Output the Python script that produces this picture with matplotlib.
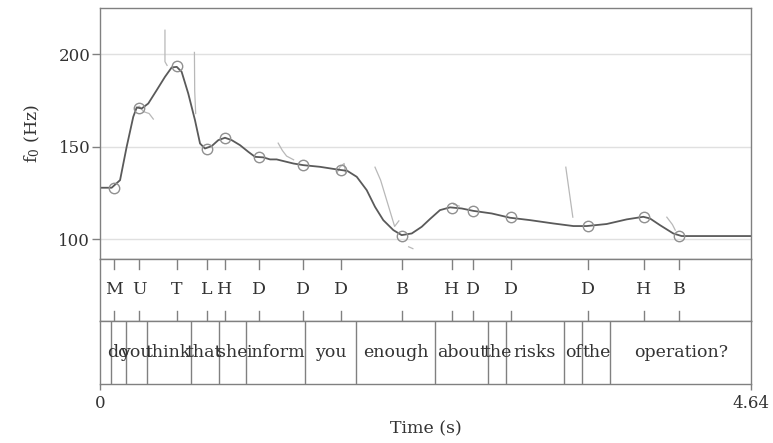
import numpy as np
import matplotlib
matplotlib.use("Agg")
import matplotlib.pyplot as plt

# ---------------- data ----------------
# smooth f0 contour (time s, Hz)
curve_t = [0.0, 0.083, 0.143, 0.190, 0.237, 0.262, 0.297, 0.344, 0.404, 0.463, 0.511,
           0.547, 0.582, 0.629, 0.677, 0.713, 0.748, 0.796, 0.843, 0.891, 0.939, 0.998,
           1.057, 1.105, 1.164, 1.212, 1.259, 1.378, 1.449, 1.568, 1.687, 1.763, 1.830,
           1.901, 1.960, 2.019, 2.091, 2.150, 2.222, 2.293, 2.352, 2.423, 2.495, 2.578,
           2.661, 2.792, 2.922, 3.065, 3.231, 3.374, 3.469, 3.611, 3.754, 3.872, 3.920,
           3.991, 4.086, 4.146, 4.64]
curve_f = [127.9, 127.9, 132.0, 150.0, 166.2, 171.3, 170.7, 173.4, 180.6, 187.8, 192.9,
           193.2, 190.5, 178.8, 164.4, 151.8, 149.1, 150.4, 153.6, 154.9, 153.6, 150.9,
           147.3, 144.6, 144.3, 143.2, 143.2, 141.0, 140.1, 139.2, 137.8, 137.0, 133.8,
           126.6, 117.6, 110.4, 105.0, 102.3, 103.2, 106.8, 111.0, 115.8, 117.3, 116.7,
           115.4, 114.0, 111.7, 110.4, 108.6, 107.2, 107.2, 108.3, 110.8, 112.2, 111.3,
           107.7, 103.2, 101.8, 101.8]

# tonal targets
tone_labels = ["M", "U", "T", "L", "H", "D", "D", "D", "B", "H", "D", "D", "D", "H", "B"]
tone_t = [0.102, 0.278, 0.547, 0.761, 0.889, 1.133, 1.449, 1.716, 2.155, 2.507,
          2.661, 2.929, 3.480, 3.877, 4.130]
tone_f = [128.0, 171.0, 193.5, 149.0, 155.0, 144.5, 140.0, 137.5, 102.0, 117.0,
          115.5, 112.0, 107.2, 112.2, 101.8]

# raw (unsmoothed) f0 track fragments
raw_segments = [
    ([0.25, 0.28, 0.31, 0.35, 0.38], [170, 172, 169, 168, 165]),
    ([0.463, 0.463, 0.478], [213, 196, 194]),
    ([0.673, 0.675, 0.682], [201, 180, 168]),
    ([1.27, 1.30, 1.33, 1.38], [152, 148, 145, 143]),
    ([1.69, 1.71, 1.74, 1.75], [136, 139, 141, 136]),
    ([1.96, 2.00, 2.04, 2.08, 2.10, 2.13], [139, 132, 122, 112, 107, 110]),
    ([2.20, 2.23], [96, 95]),
    ([2.52, 2.56], [119, 118]),
    ([3.32, 3.37], [139, 112]),
    ([4.04, 4.08, 4.10], [112, 108, 105]),
]

# word tier
word_bounds = [0.0, 0.076, 0.185, 0.333, 0.646, 0.846, 1.041, 1.461, 1.823, 2.388,
               2.768, 2.894, 3.307, 3.438, 3.637, 4.64]
words = ["", "do", "you", "think", "that", "she", "inform", "you", "enough", "about",
         "the", "risks", "of", "the", "operation?"]

t_max = 4.64
y_ticks = [100, 150, 200]
y_lim = (89.4, 225.0)

# ---------------- figure ----------------
plt.rcParams['font.family'] = ['DejaVu Serif']
plt.rcParams['mathtext.fontset'] = 'dejavuserif'
fig = plt.figure(figsize=(7.73, 4.43), dpi=100)

W, H = 773.0, 443.0
left, right = 100 / W, 751 / W
wd = right - left
def ax_at(top_px, bot_px):
    return fig.add_axes([left, 1 - bot_px / H, wd, (bot_px - top_px) / H])

ax_f0 = ax_at(8, 259)
ax_tone = ax_at(259, 321)
ax_word = ax_at(321, 384)

frame_col = "#808080"
for ax in (ax_f0, ax_tone, ax_word):
    ax.set_xlim(0, t_max)
    for s in ax.spines.values():
        s.set_color(frame_col)
        s.set_linewidth(1.0)

# f0 panel
ax_f0.set_ylim(*y_lim)
for yv in y_ticks:
    ax_f0.axhline(yv, color="#e0e0e0", lw=1.0, zorder=0)
raw_t, raw_f = [], []
for st, sf in raw_segments:
    raw_t += list(st) + [np.nan]
    raw_f += list(sf) + [np.nan]
ax_f0.plot(raw_t, raw_f, color="#b8b8b8", lw=0.9, zorder=1)
ax_f0.plot(curve_t, curve_f, color="#5a5a5a", lw=1.3, zorder=2)
ax_f0.plot(tone_t, tone_f, linestyle="none", marker="o", markersize=7.5,
           markerfacecolor="none", markeredgecolor="#909090", markeredgewidth=1.0, zorder=3)
ax_f0.set_yticks(y_ticks)
ax_f0.set_yticklabels([str(v) for v in y_ticks], fontsize=12, color="#333333")
ax_f0.tick_params(axis="y", direction="out", length=6, width=1, color=frame_col, pad=1)
ax_f0.set_xticks([])
ax_f0.set_ylabel(r"f$_0$ (Hz)", fontsize=12.5, color="#333333", labelpad=12)

# tone tier
ax_tone.set_ylim(0, 1)
ax_tone.set_xticks([])
ax_tone.set_yticks([])
for lab, t in zip(tone_labels, tone_t):
    ax_tone.plot([t, t], [0.84, 1.0], color=frame_col, lw=1.0)
    ax_tone.plot([t, t], [0.0, 0.16], color=frame_col, lw=1.0)
    ax_tone.text(t, 0.5, lab, ha="center", va="center", fontsize=12.5, color="#333333")

# word tier
ax_word.set_ylim(0, 1)
ax_word.set_yticks([])
for b in word_bounds[1:-1]:
    ax_word.axvline(b, color=frame_col, lw=1.0)
for i, w in enumerate(words):
    if w:
        c = 0.5 * (word_bounds[i] + word_bounds[i + 1])
        ax_word.text(c, 0.5, w, ha="center", va="center", fontsize=12.5, color="#333333")
ax_word.set_xticks([0, t_max])
ax_word.set_xticklabels(["0", "4.64"], fontsize=12, color="#333333")
ax_word.tick_params(axis="x", direction="out", length=4, width=1, color=frame_col, pad=4)
ax_word.set_xlabel("Time (s)", fontsize=12.5, color="#333333", labelpad=6)

fig.savefig("out.png", dpi=100)
